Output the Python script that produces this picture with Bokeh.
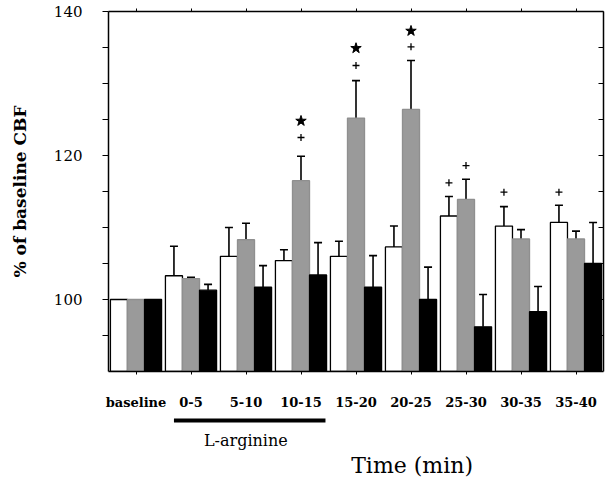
from bokeh.plotting import figure
from bokeh.layouts import column
from bokeh.models import (LinearAxis, FixedTicker, ColumnDataSource, Whisker, TeeHead,
                          Label, Range1d)
from bokeh.embed import file_html
from bokeh.resources import INLINE

# ---- data ----
categories = ["baseline", "0-5", "5-10", "10-15", "15-20", "20-25", "25-30", "30-35", "35-40"]
white = [100, 103.3, 106.0, 105.4, 106.0, 107.3, 111.6, 110.2, 110.7]
white_err = [0, 4.1, 4.0, 1.5, 2.1, 2.9, 2.7, 2.7, 2.4]
gray = [100, 102.9, 108.3, 116.5, 125.2, 126.4, 113.9, 108.4, 108.4]
gray_err = [0, 0.2, 2.3, 3.4, 5.2, 6.8, 2.8, 1.3, 1.1]
black = [100, 101.3, 101.7, 103.4, 101.7, 100.0, 96.2, 98.3, 105.0]
black_err = [0, 0.8, 3.0, 4.5, 4.4, 4.5, 4.5, 3.5, 5.7]

# significance marks: (category index, series index, y)
plus_cat = [3, 4, 5, 6, 6, 7, 8]
plus_ser = [1, 1, 1, 0, 1, 0, 0]
plus_y = [122.5, 132.5, 135.1, 116.2, 118.6, 114.9, 114.9]
star_cat = [3, 4, 5]
star_ser = [1, 1, 1]
star_y = [124.8, 134.9, 137.3]

y_ticks_major = [100, 120, 140]
y_ticks_minor = [95, 105, 110, 115, 125, 130, 135]
arginine_span = ["0-5", "10-15"]

# ---- style / layout ----
FONT = "DejaVu Serif"
BW = 0.31
offsets = [-BW, 0.0, BW]
colors = ["white", "#9a9a9a", "black"]
YMIN, YMAX = 90, 140
W = 608
H_MAIN = 414
H_LOW = 70
BL, BR = 108, 5

p = figure(width=W, height=H_MAIN, output_backend="svg", toolbar_location=None,
           x_range=Range1d(-0.5, 8.5), y_range=Range1d(YMIN, YMAX),
           x_axis_type=None, y_axis_type=None,
           min_border_left=BL, min_border_right=BR, min_border_top=11, min_border_bottom=H_MAIN - 371)
p.outline_line_color = None
p.xgrid.visible = False
p.ygrid.visible = False

xs = list(range(len(categories)))
series = [(white, white_err), (gray, gray_err), (black, black_err)]
for k, (vals, errs) in enumerate(series):
    bx = [x + offsets[k] for x in xs]
    p.vbar(x=bx, top=vals, bottom=YMIN, width=BW,
           fill_color=colors[k],
           line_color="black" if k != 1 else "#8f8f8f", line_width=1.3)
    sel = [i for i in xs if errs[i] > 0]
    src = ColumnDataSource(dict(x=[bx[i] for i in sel],
                                lower=[vals[i] for i in sel],
                                upper=[vals[i] + errs[i] for i in sel]))
    w = Whisker(base="x", lower="lower", upper="upper", source=src,
                lower_head=None, upper_head=TeeHead(size=8, line_width=1.6, line_color="black"),
                line_width=1.6, line_color="black")
    p.add_layout(w)

p.scatter(x=[plus_cat[i] + offsets[plus_ser[i]] for i in range(len(plus_cat))], y=plus_y,
          marker="cross", size=7, line_color="black", line_width=1.3)
p.scatter(x=[star_cat[i] + offsets[star_ser[i]] for i in range(len(star_cat))], y=star_y,
          marker="star", size=11, fill_color="black", line_color="black")


def style_axis(ax):
    ax.axis_line_width = 1.5
    ax.axis_line_color = "black"
    ax.major_tick_line_color = "black"
    ax.minor_tick_line_color = "black"
    ax.major_label_text_color = "black"
    ax.axis_label_text_color = "black"


# axes
left = LinearAxis(ticker=FixedTicker(ticks=y_ticks_major, minor_ticks=y_ticks_minor))
style_axis(left)
left.axis_label = "% of baseline CBF"
left.axis_label_text_font = FONT
left.axis_label_text_font_style = "bold"
left.axis_label_text_font_size = "17px"
left.axis_label_standoff = 21
left.major_label_text_font = FONT
left.major_label_text_font_size = "15px"
left.major_label_standoff = 20
left.major_tick_out = 6
left.major_tick_in = 0
left.minor_tick_out = 6
left.minor_tick_in = 0
p.add_layout(left, "left")

right = LinearAxis(ticker=FixedTicker(ticks=[], minor_ticks=y_ticks_major + y_ticks_minor))
style_axis(right)
right.major_label_standoff = 0
right.minor_tick_in = 5
right.minor_tick_out = 0
p.add_layout(right, "right")

bottom = LinearAxis(ticker=FixedTicker(ticks=xs, minor_ticks=[]))
style_axis(bottom)
bottom.major_label_overrides = {i: c for i, c in enumerate(categories)}
bottom.major_label_text_font = FONT
bottom.major_label_text_font_style = "bold"
bottom.major_label_text_font_size = "13px"
bottom.major_label_standoff = 20
bottom.major_tick_out = 3
bottom.major_tick_in = 0
p.add_layout(bottom, "below")

top = LinearAxis(ticker=FixedTicker(ticks=[], minor_ticks=xs))
style_axis(top)
top.major_label_standoff = 0
top.minor_tick_out = 3
top.minor_tick_in = 0
p.add_layout(top, "above")

# lower strip: L-arginine bar and axis title (y measured in px downward)
p2 = figure(width=W, height=H_LOW, output_backend="svg", toolbar_location=None,
            x_range=p.x_range, y_range=Range1d(H_LOW, 0),
            x_axis_type=None, y_axis_type=None,
            min_border_left=BL, min_border_right=BR, min_border_top=0, min_border_bottom=0)
p2.outline_line_color = None
p2.xgrid.visible = False
p2.ygrid.visible = False

i0 = categories.index(arginine_span[0])
i1 = categories.index(arginine_span[1])
bar_left = i0 - BW
bar_right = i1 + 1.5 * BW - 0.02
p2.segment(x0=[bar_left], x1=[bar_right], y0=[6], y1=[6], line_width=4,
           line_color="black", line_cap="butt")
p2.add_layout(Label(x=(bar_left + bar_right) / 2 - 0.07, y=26, text="L-arginine",
                    text_align="center", text_baseline="middle",
                    text_font=FONT, text_font_size="16px", text_color="black"))
p2.add_layout(Label(x=5.02, y=51, text="Time (min)",
                    text_align="center", text_baseline="middle",
                    text_font=FONT, text_font_size="22px", text_color="black"))

layout = column(p, p2, spacing=0)
open("out.html", "w").write(file_html(layout, INLINE))
